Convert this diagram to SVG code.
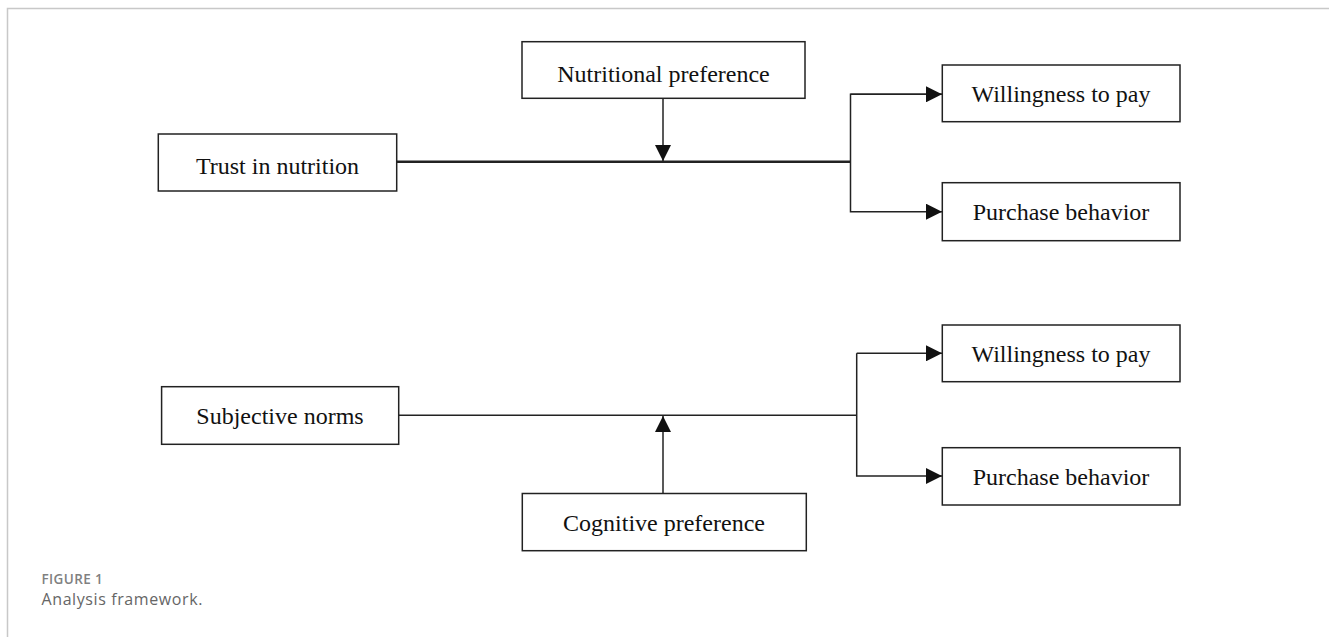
<svg xmlns="http://www.w3.org/2000/svg" width="1329" height="637" viewBox="0 0 1329 637">
<style>
.box{fill:#fff;stroke:#222;stroke-width:1.5}
.lbl{font-family:"Liberation Serif","Times New Roman",serif;font-size:24px;fill:#111;text-anchor:middle}
.con{fill:none;stroke:#222;stroke-width:1.5}
.frame{fill:none;stroke:#c8c8c8;stroke-width:1.5}
.cap{font-family:"Open Sans","Noto Sans",sans-serif}
</style>
<defs>
<marker id="ah" markerWidth="16" markerHeight="16" refX="16" refY="8" orient="auto" markerUnits="userSpaceOnUse">
<path d="M0,0 L16,8 L0,16 Z" fill="#111"/>
</marker>
</defs>
<rect width="1329" height="637" fill="#fff"/>
<path class="frame" d="M7.5,637 V8.5 H1329"/>
<g id="connectors">
<line x1="397" y1="161.7" x2="850.5" y2="161.7" stroke="#222" stroke-width="2.6"/>
<line class="con" x1="663" y1="98.5" x2="663" y2="161" marker-end="url(#ah)"/>
<path class="con" d="M942,94.3 H850.5 V211.7 H942" marker-end="url(#ah)"/>
<line class="con" x1="850.5" y1="94.3" x2="942" y2="94.3" marker-end="url(#ah)"/>
<line class="con" x1="399" y1="415.3" x2="856.7" y2="415.3"/>
<line class="con" x1="663" y1="493.5" x2="663" y2="416" marker-end="url(#ah)"/>
<path class="con" d="M856.7,353.3 V476 H942" marker-end="url(#ah)"/>
<line class="con" x1="856.7" y1="353.3" x2="942" y2="353.3" marker-end="url(#ah)"/>
</g>
<g id="n-nutritional">
<rect class="box" x="522" y="41.7" width="283" height="56.6"/>
<text class="lbl" x="663.5" y="81.5">Nutritional preference</text>
</g>
<g id="n-trust">
<rect class="box" x="158.3" y="134" width="238.4" height="57"/>
<text class="lbl" x="277.5" y="174">Trust in nutrition</text>
</g>
<g id="n-wtp1">
<rect class="box" x="942.3" y="65" width="237.7" height="56.7"/>
<text class="lbl" x="1061" y="102">Willingness to pay</text>
</g>
<g id="n-pb1">
<rect class="box" x="942.3" y="182.7" width="237.7" height="58"/>
<text class="lbl" x="1061" y="220">Purchase behavior</text>
</g>
<g id="n-subjective">
<rect class="box" x="161.6" y="386.7" width="237.1" height="57.6"/>
<text class="lbl" x="280" y="423.5">Subjective norms</text>
</g>
<g id="n-cognitive">
<rect class="box" x="522.3" y="493.5" width="284" height="57.2"/>
<text class="lbl" x="664" y="531">Cognitive preference</text>
</g>
<g id="n-wtp2">
<rect class="box" x="942.3" y="325" width="237.7" height="56.7"/>
<text class="lbl" x="1061" y="362">Willingness to pay</text>
</g>
<g id="n-pb2">
<rect class="box" x="942.3" y="447.7" width="237.7" height="57.3"/>
<text class="lbl" x="1061" y="485">Purchase behavior</text>
</g>
<g id="caption">
<text class="cap" x="41.5" y="583.5" font-size="13.5" font-weight="600" letter-spacing="0.4" fill="#808080">FIGURE 1</text>
<text class="cap" x="41.5" y="604.5" font-size="16" letter-spacing="0.6" fill="#666">Analysis framework.</text>
</g>
</svg>
